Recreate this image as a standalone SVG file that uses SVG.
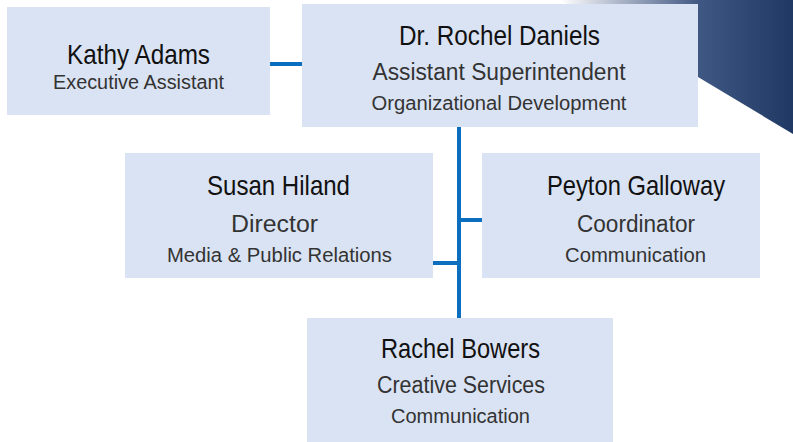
<svg xmlns="http://www.w3.org/2000/svg" width="793" height="442" viewBox="0 0 793 442">
  <defs>
    <linearGradient id="deco" x1="560" y1="0" x2="793" y2="0" gradientUnits="userSpaceOnUse">
      <stop offset="0" stop-color="#ffffff"/>
      <stop offset="0.35" stop-color="#8e9bb4"/>
      <stop offset="0.6" stop-color="#3f5783"/>
      <stop offset="1" stop-color="#1f3864"/>
    </linearGradient>
  </defs>
  <style>
    .box { fill: #dae3f3; }
    .conn { stroke: #0b6ebf; stroke-width: 4; fill: none; }
    text { font-family: "Liberation Sans", Arial, sans-serif; text-anchor: middle; }
    .name { font-size: 28px; fill: #111111; }
    .sub { font-size: 23px; fill: #333333; }
    .sub2 { font-size: 20px; fill: #333333; }
  </style>
  <rect width="793" height="442" fill="#ffffff"/>
  <polygon id="decor" points="560,0 793,0 793,134 698,77" fill="url(#deco)"/>

  <g id="connectors">
    <line class="conn" x1="270" y1="64" x2="302" y2="64"/>
    <line class="conn" x1="459" y1="127" x2="459" y2="318"/>
    <line class="conn" x1="433" y1="263" x2="459" y2="263"/>
    <line class="conn" x1="459" y1="220" x2="482" y2="220"/>
  </g>

  <g id="kathy">
    <rect class="box" x="7" y="7" width="263" height="108"/>
    <text class="name" x="138.5" y="64" textLength="143" lengthAdjust="spacingAndGlyphs">Kathy Adams</text>
    <text class="sub2" x="138.5" y="89" textLength="171" lengthAdjust="spacingAndGlyphs">Executive Assistant</text>
  </g>

  <g id="rochel">
    <rect class="box" x="302" y="4" width="396" height="123"/>
    <text class="name" x="499.5" y="45" textLength="201" lengthAdjust="spacingAndGlyphs">Dr. Rochel Daniels</text>
    <text class="sub" x="499" y="80" textLength="253" lengthAdjust="spacingAndGlyphs">Assistant Superintendent</text>
    <text class="sub2" x="499" y="110" textLength="255" lengthAdjust="spacingAndGlyphs">Organizational Development</text>
  </g>

  <g id="susan">
    <rect class="box" x="125" y="153" width="308" height="125"/>
    <text class="name" x="278.5" y="195" textLength="143" lengthAdjust="spacingAndGlyphs">Susan Hiland</text>
    <text class="sub" x="274.5" y="232" textLength="87" lengthAdjust="spacingAndGlyphs">Director</text>
    <text class="sub2" x="279.5" y="262" textLength="225" lengthAdjust="spacingAndGlyphs">Media &amp; Public Relations</text>
  </g>

  <g id="peyton">
    <rect class="box" x="482" y="153" width="278" height="125"/>
    <text class="name" x="636" y="195" textLength="178" lengthAdjust="spacingAndGlyphs">Peyton Galloway</text>
    <text class="sub" x="636" y="232" textLength="118" lengthAdjust="spacingAndGlyphs">Coordinator</text>
    <text class="sub2" x="635.5" y="262" textLength="141" lengthAdjust="spacingAndGlyphs">Communication</text>
  </g>

  <g id="rachel">
    <rect class="box" x="307" y="318" width="306" height="124"/>
    <text class="name" x="460.5" y="358" textLength="159" lengthAdjust="spacingAndGlyphs">Rachel Bowers</text>
    <text class="sub" x="461" y="393" textLength="168" lengthAdjust="spacingAndGlyphs">Creative Services</text>
    <text class="sub2" x="460.5" y="423" textLength="139" lengthAdjust="spacingAndGlyphs">Communication</text>
  </g>
</svg>
